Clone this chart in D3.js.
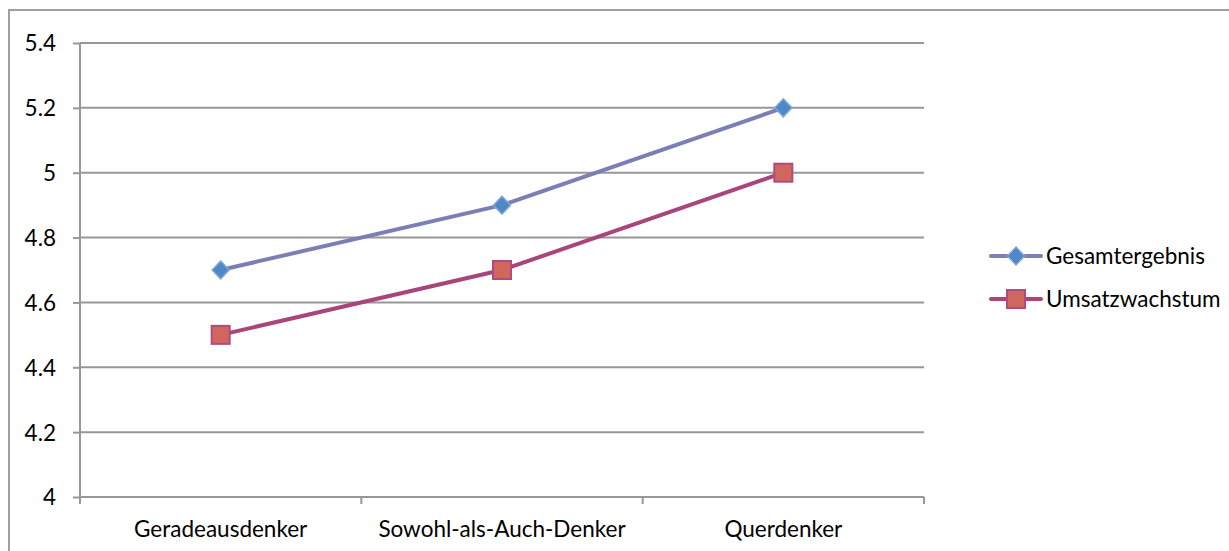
<!DOCTYPE html>
<html><head><meta charset="utf-8">
<script src="https://cdn.jsdelivr.net/npm/d3@7/dist/d3.min.js"></script>
<style>body{margin:0;background:#fff;} text{font-family:Lato,"Open Sans",sans-serif;fill:#000;}</style>
</head><body>
<svg id="c" width="1229" height="551"></svg>
<script>
const categories = ["Geradeausdenker","Sowohl-als-Auch-Denker","Querdenker"];
const seriesNames = ["Gesamtergebnis","Umsatzwachstum"];
const gesamt = [4.7, 4.9, 5.2];
const umsatz = [4.5, 4.7, 5.0];
const yTicks = [4, 4.2, 4.4, 4.6, 4.8, 5, 5.2, 5.4];

const svg = d3.select("#c");
const L = 80, R = 924, T = 43, B = 497;
const grid = "#979797";
const FS = "22.5px";

// outer frame
svg.append("rect").attr("x",9).attr("y",10).attr("width",1240).attr("height",560)
  .attr("fill","none").attr("stroke","#a0a0a0").attr("stroke-width",2);

const x = d3.scaleBand().domain(categories).range([L,R]).padding(0);
const y = d3.scaleLinear().domain([4,5.4]).range([B,T]);

// gridlines
svg.append("g").selectAll("line").data(yTicks.slice(1)).join("line")
  .attr("x1",L).attr("x2",R).attr("y1",d=>y(d)).attr("y2",d=>y(d))
  .attr("stroke",grid).attr("stroke-width",2);

// y axis
const ya = svg.append("g").attr("transform",`translate(${L},0)`)
  .call(d3.axisLeft(y).tickValues(yTicks).tickSize(7).tickPadding(17).tickFormat(d=>String(d)));
ya.select(".domain").attr("stroke",grid).attr("stroke-width",2).attr("d",`M0,${T}V${B}`);
ya.selectAll(".tick line").attr("stroke",grid).attr("stroke-width",2);
ya.selectAll(".tick text").style("font-size",FS).attr("dy","0.35em");

// x axis
const xa = svg.append("g").attr("transform",`translate(0,${B})`)
  .call(d3.axisBottom(x).tickSize(0).tickPadding(24));
xa.select(".domain").attr("stroke",grid).attr("stroke-width",2).attr("d",`M${L},0H${R}`);
xa.selectAll(".tick text").style("font-size",FS);
const bounds = [L].concat(categories.map(c=>x(c)+x.bandwidth()));
svg.append("g").selectAll("line").data(bounds).join("line")
  .attr("x1",d=>d).attr("x2",d=>d).attr("y1",B).attr("y2",B+7)
  .attr("stroke",grid).attr("stroke-width",2);

const cx = c => x(c)+x.bandwidth()/2;
const line = d3.line().x((d,i)=>cx(categories[i])).y(d=>y(d));

const styles = [
  {vals:gesamt, stroke:"#7a7fb5", fill:"#4f88c6", mstroke:"#7fa7d8", shape:"diamond"},
  {vals:umsatz, stroke:"#a8457a", fill:"#d0665e", mstroke:"#b04a80", shape:"square"}
];

function marker(g, s, px, py){
  if(s.shape==="diamond"){
    g.append("path").attr("d",`M${px},${py-9}L${px+8.5},${py}L${px},${py+9}L${px-8.5},${py}Z`)
      .attr("fill",s.fill).attr("stroke",s.mstroke).attr("stroke-width",1.5);
  } else {
    g.append("rect").attr("x",px-9).attr("y",py-9).attr("width",18).attr("height",18)
      .attr("fill",s.fill).attr("stroke",s.mstroke).attr("stroke-width",2);
  }
}

styles.forEach(s=>{
  svg.append("path").datum(s.vals).attr("d",line).attr("fill","none")
    .attr("stroke",s.stroke).attr("stroke-width",4).attr("stroke-linecap","round");
  const g = svg.append("g");
  s.vals.forEach((v,i)=>marker(g,s,cx(categories[i]),y(v)));
});

// legend
const legY = [256, 299];
styles.forEach((s,i)=>{
  const g = svg.append("g");
  g.append("line").attr("x1",991).attr("x2",1041).attr("y1",legY[i]).attr("y2",legY[i])
    .attr("stroke",s.stroke).attr("stroke-width",4).attr("stroke-linecap","round");
  marker(g,s,1016,legY[i]);
  g.append("text").attr("x",1046).attr("y",legY[i]).attr("dy","0.35em")
    .style("font-size",FS).text(seriesNames[i]);
});
</script>
</body></html>
